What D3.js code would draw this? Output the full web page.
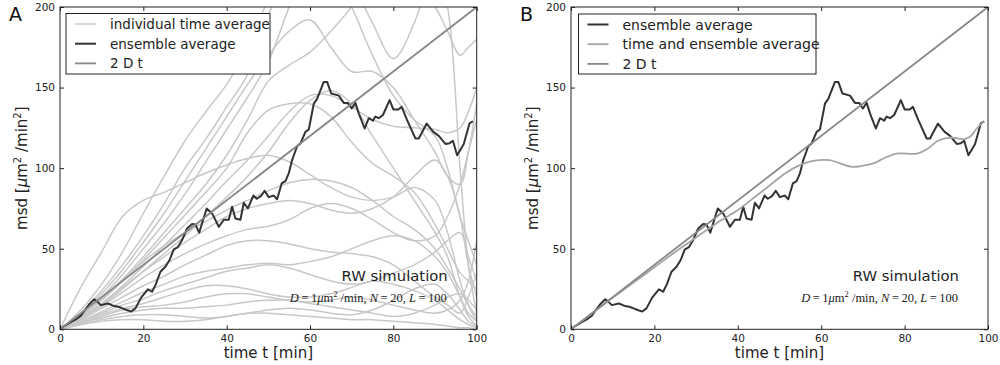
<!DOCTYPE html>
<html>
<head>
<meta charset="utf-8">
<script src="https://cdn.jsdelivr.net/npm/d3@7"></script>
<style>
  body { margin: 0; background: #fff; }
  .tick text { font-family: "DejaVu Sans", sans-serif; font-size: 10.5px; fill: #222; }
  .tick line { stroke: #222; }
</style>
</head>
<body>
<svg id="chart" width="1000" height="365"></svg>
<script>
// ---- data ----
const xTicks = [0, 20, 40, 60, 80, 100];
const yTicks = [0, 50, 100, 150, 200];

// individual time averages, sampled at these times (values above 200 leave the frame)
const curveTimes = [0, 5, 10, 15, 20, 25, 30, 35, 40, 45, 50, 55, 60, 65, 70, 75, 80, 85, 90, 93, 96, 98, 100];
const individualAverages = [
  [0, 12, 28, 48, 72, 95, 117, 135, 152, 175, 205, 230, 240, 225, 200, 170, 145, 130, 120, 100, 70, 55, 40],
  [0, 10, 24, 40, 58, 78, 100, 118, 138, 158, 195, 220, 235, 230, 215, 190, 168, 190, 230, 240, 240, 240, 240],
  [0, 9, 22, 37, 54, 72, 92, 112, 132, 152, 170, 185, 192, 175, 160, 160, 150, 130, 110, 95, 90, 110, 140],
  [0, 9, 20, 34, 50, 66, 84, 104, 124, 144, 166, 200, 230, 245, 250, 250, 245, 240, 225, 200, 100, 40, 10],
  [0, 8, 19, 31, 45, 60, 75, 90, 108, 130, 154, 164, 172, 185, 200, 215, 220, 215, 200, 185, 170, 175, 180],
  [0, 8, 18, 30, 43, 57, 71, 85, 100, 122, 136, 140, 140, 132, 116, 103, 95, 85, 65, 50, 35, 30, 25],
  [0, 7, 16, 27, 39, 52, 65, 78, 92, 105, 120, 135, 145, 145, 138, 130, 126, 125, 124, 122, 125, 135, 150],
  [0, 7, 15, 25, 36, 47, 58, 70, 82, 95, 110, 128, 142, 148, 140, 120, 100, 80, 60, 45, 20, 8, 2],
  [0, 26, 48, 70, 80, 85, 91, 97, 102, 106, 108, 104, 96, 88, 82, 80, 82, 88, 80, 60, 30, 15, 5],
  [0, 8, 18, 30, 42, 52, 60, 67, 74, 80, 86, 91, 93, 92, 88, 80, 70, 62, 50, 38, 25, 15, 8],
  [0, 7, 16, 26, 36, 45, 54, 62, 70, 75, 78, 80, 78, 74, 72, 75, 82, 95, 105, 95, 70, 40, 20],
  [0, 6, 14, 23, 32, 40, 47, 53, 58, 62, 64, 68, 75, 78, 75, 68, 60, 55, 58, 70, 90, 110, 130],
  [0, 6, 13, 20, 27, 33, 40, 46, 52, 55, 55, 53, 50, 48, 47, 45, 40, 30, 20, 15, 10, 20, 35],
  [0, 5, 11, 17, 23, 28, 33, 36, 38, 40, 41, 40, 42, 45, 50, 55, 58, 55, 45, 35, 20, 10, 5],
  [0, 5, 10, 15, 19, 24, 28, 32, 36, 38, 40, 38, 34, 30, 28, 30, 35, 40, 48, 55, 60, 45, 30],
  [0, 4, 9, 13, 16, 20, 24, 27, 27, 25, 22, 20, 20, 22, 26, 30, 28, 24, 18, 12, 6, 3, 1],
  [0, 4, 8, 12, 14, 15, 17, 20, 22, 22, 20, 18, 17, 18, 20, 18, 15, 12, 10, 12, 18, 30, 55],
  [0, 4, 7, 10, 12, 13, 13, 14, 15, 17, 18, 18, 16, 14, 12, 10, 8, 10, 15, 20, 22, 18, 12],
  [0, 3, 6, 8, 9, 9, 8, 7, 8, 10, 12, 13, 12, 10, 9, 12, 18, 25, 28, 22, 12, 5, 2],
  [0, 3, 5, 6, 6, 5, 5, 6, 8, 10, 10, 9, 8, 7, 6, 6, 5, 4, 3, 2, 1, 1, 0]
];

const ensembleTimes = [0, 1, 2, 3, 4, 5, 6, 7, 8.2, 9, 9.8, 11.4, 12, 13, 14, 15, 16, 17.1, 18.1, 19.5,
  21.1, 22.1, 23, 24.1, 25.3, 26.3, 27.3, 28.3, 29.3, 30.5, 31.7, 32.5, 33.4, 35.2, 36.6, 38.1, 39.3,
  40.5, 41.3, 42.1, 43.3, 44.1, 45.1, 46.4, 47.2, 48.2, 49.1, 50.1, 51.3, 52.1, 53.2, 54.1, 54.9, 55.7,
  56.9, 57.7, 58.9, 59.7, 60.9, 61.7, 63.3, 64.1, 65.1, 66.9, 68.1, 69.1, 70, 70.9, 71.7, 73.1, 74.1,
  75.1, 75.7, 76.5, 77.5, 79.1, 80, 81.2, 82, 83.3, 85.3, 86.1, 88, 89.6, 90.9, 92.5, 93.5, 94.3, 95.3,
  96.9, 98.3, 99.1];
const ensembleValues = [0, 2, 3.5, 5, 6.5, 8.5, 12, 15.5, 18.6, 17, 15, 16, 15.5, 14.4, 14, 13, 12, 11, 13, 19.8,
  24.8, 23.3, 28, 35.7, 38.8, 43, 49.6, 51, 55.4, 62.6, 65.3, 65, 60, 75, 71.5, 63.6, 68,
  68, 76, 68.8, 68, 78.5, 75, 83, 81, 82.6, 86, 82, 83, 80.7, 90.5, 92, 96.7, 105,
  113.6, 115.3, 122.5, 124, 140, 143, 153.5, 153.5, 146.3, 145, 140.5, 140.5, 137, 140.5, 134, 124.6, 131,
  129.5, 132, 131, 133, 142.2, 136.4, 136.4, 138, 129.8, 118.4, 118.4, 127.7, 122.5, 120, 115, 115.5, 117, 108,
  115, 128, 129];

const timeEnsembleTimes = [0, 5, 10, 15, 20, 25, 30, 35, 40, 45, 48, 51.5, 55, 58, 62, 64.5, 67.5, 70, 72.5,
  75, 78, 83, 85.5, 88, 91, 94, 95.7, 97.3, 99];
const timeEnsembleValues = [0, 9.8, 19.5, 29, 38.5, 48, 57, 66, 74, 84, 90, 97, 102, 104.5, 105, 103, 100.8,
  101.5, 103, 106, 109, 109, 112, 117, 119, 118, 119.5, 124.6, 129];

const theoryTimes = [0, 100];
const theoryValues = [0, 200];

// ---- drawing ----
const INK = "#222";
const IND = "#c8c8c8";
const ENS = "#333";
const TE = "#a4a4a4";
const THEORY = "#888";

const svg = d3.select("#chart");
const plotTop = 7, plotBottom = 329.3;

function zip(ts, vs) { return ts.map((t, i) => ({ t, v: vs[i] })); }

function drawPanel(id, left, right, letter, legendItems, legendBox, series) {
  const x = d3.scaleLinear().domain([0, 100]).range([left, right]);
  const y = d3.scaleLinear().domain([0, 200]).range([plotBottom, plotTop]);

  svg.append("clipPath").attr("id", "clip-" + id)
    .append("rect").attr("x", left).attr("y", plotTop)
    .attr("width", right - left).attr("height", plotBottom - plotTop);

  const plot = svg.append("g").attr("clip-path", `url(#clip-${id})`);

  series.forEach(s => {
    const line = d3.line().x(d => x(d.t)).y(d => y(d.v)).curve(s.curve || d3.curveLinear);
    plot.append("path")
      .datum(s.data)
      .attr("fill", "none")
      .attr("stroke", s.color)
      .attr("stroke-width", s.width)
      .attr("stroke-linejoin", "round")
      .attr("d", line);
  });

  // ticks on all four sides, pointing inward
  svg.append("g").attr("transform", `translate(0,${plotBottom})`)
    .call(d3.axisBottom(x).tickValues(xTicks).tickSize(-4).tickPadding(5))
    .call(g => g.select(".domain").remove());
  svg.append("g").attr("transform", `translate(0,${plotTop})`)
    .call(d3.axisTop(x).tickValues(xTicks).tickSize(-4).tickFormat(""))
    .call(g => g.select(".domain").remove());
  svg.append("g").attr("transform", `translate(${left},0)`)
    .call(d3.axisLeft(y).tickValues(yTicks).tickSize(-4).tickPadding(5))
    .call(g => g.select(".domain").remove());
  svg.append("g").attr("transform", `translate(${right},0)`)
    .call(d3.axisRight(y).tickValues(yTicks).tickSize(-4).tickFormat(""))
    .call(g => g.select(".domain").remove());

  svg.append("rect")
    .attr("x", left).attr("y", plotTop)
    .attr("width", right - left).attr("height", plotBottom - plotTop)
    .attr("fill", "none").attr("stroke", INK).attr("stroke-width", 1);

  // axis titles
  svg.append("text")
    .attr("x", (left + right) / 2).attr("y", 358)
    .attr("text-anchor", "middle")
    .attr("font-family", "DejaVu Sans, sans-serif").attr("font-size", 15)
    .attr("fill", INK)
    .text("time t [min]");

  const yl = svg.append("text")
    .attr("transform", `translate(${left - 33},${(plotTop + plotBottom) / 2}) rotate(-90)`)
    .attr("text-anchor", "middle")
    .attr("font-family", "DejaVu Sans, sans-serif").attr("font-size", 15)
    .attr("fill", INK);
  yl.append("tspan").text("msd [");
  yl.append("tspan").attr("font-style", "italic").text("μ");
  yl.append("tspan").text("m");
  yl.append("tspan").attr("font-size", 10).attr("dy", -6).text("2");
  yl.append("tspan").attr("dy", 6).text(" /min");
  yl.append("tspan").attr("font-size", 10).attr("dy", -6).text("2");
  yl.append("tspan").attr("dy", 6).text("]");

  // panel letter
  svg.append("text")
    .attr("x", left - 51).attr("y", 21)
    .attr("font-family", "DejaVu Sans, sans-serif").attr("font-size", 19)
    .attr("fill", "#111")
    .text(letter);

  // annotation
  svg.append("text")
    .attr("x", right - 29).attr("y", 281)
    .attr("text-anchor", "end")
    .attr("font-family", "DejaVu Sans, sans-serif").attr("font-size", 14.8)
    .attr("fill", INK)
    .text("RW simulation");

  const m = svg.append("text")
    .attr("x", right - 30).attr("y", 302)
    .attr("text-anchor", "end")
    .attr("font-family", "Liberation Serif, serif").attr("font-size", 12.5)
    .attr("fill", INK);
  m.append("tspan").attr("font-style", "italic").text("D");
  m.append("tspan").text("\u2009=\u20091");
  m.append("tspan").attr("font-style", "italic").text("μ");
  m.append("tspan").text("m");
  m.append("tspan").attr("font-size", 8.5).attr("dy", -5).text("2");
  m.append("tspan").attr("dy", 5).text(" /min, ");
  m.append("tspan").attr("font-style", "italic").text("N");
  m.append("tspan").text("\u2009=\u200920, ");
  m.append("tspan").attr("font-style", "italic").text("L");
  m.append("tspan").text("\u2009=\u2009100");

  // legend
  const lg = svg.append("g");
  lg.append("rect")
    .attr("x", legendBox.x).attr("y", legendBox.y)
    .attr("width", legendBox.w).attr("height", legendBox.h)
    .attr("fill", "#fff").attr("stroke", INK).attr("stroke-width", 1);
  legendItems.forEach((item, i) => {
    const yy = legendBox.y + 10.5 + i * 19.7;
    lg.append("line")
      .attr("x1", legendBox.x + 9).attr("x2", legendBox.x + 30)
      .attr("y1", yy).attr("y2", yy)
      .attr("stroke", item.color).attr("stroke-width", item.width);
    lg.append("text")
      .attr("x", legendBox.x + 44).attr("y", yy + 5)
      .attr("font-family", "DejaVu Sans, sans-serif").attr("font-size", legendBox.font)
      .attr("fill", INK)
      .text(item.label);
  });
}

// panel A
const seriesA = individualAverages.map(vals => ({
  data: zip(curveTimes, vals), color: IND, width: 1.5, curve: d3.curveCatmullRom
}));
seriesA.push({ data: zip(ensembleTimes, ensembleValues), color: ENS, width: 2 });
seriesA.push({ data: zip(theoryTimes, theoryValues), color: THEORY, width: 1.8 });

drawPanel("a", 60, 476.7, "A",
  [
    { label: "individual time average", color: IND, width: 1.5 },
    { label: "ensemble average", color: ENS, width: 2 },
    { label: "2 D t", color: THEORY, width: 1.8 }
  ],
  { x: 66, y: 13.5, w: 204, h: 60.5, font: 13.5 },
  seriesA);

// panel B
drawPanel("b", 571, 988, "B",
  [
    { label: "ensemble average", color: ENS, width: 2 },
    { label: "time and ensemble average", color: TE, width: 1.8 },
    { label: "2 D t", color: THEORY, width: 1.8 }
  ],
  { x: 578.5, y: 14, w: 237.5, h: 60, font: 14 },
  [
    { data: zip(ensembleTimes, ensembleValues), color: ENS, width: 2 },
    { data: zip(timeEnsembleTimes, timeEnsembleValues), color: TE, width: 1.8, curve: d3.curveCatmullRom },
    { data: zip(theoryTimes, theoryValues), color: THEORY, width: 1.8 }
  ]);
</script>
</body>
</html>
